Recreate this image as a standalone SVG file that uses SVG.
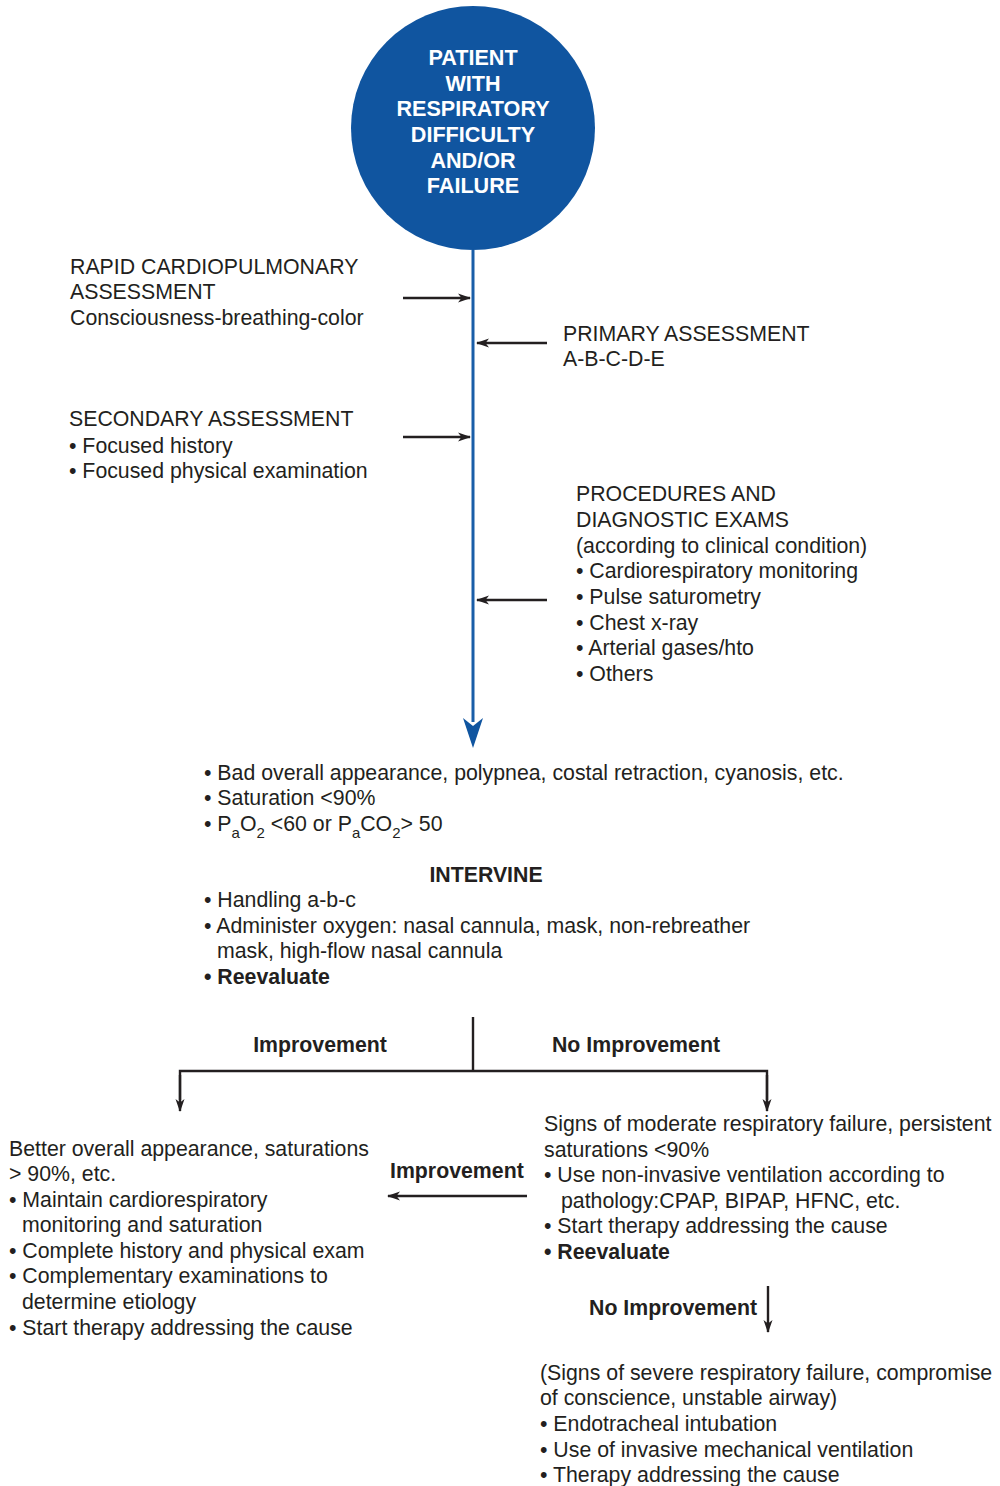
<svg xmlns="http://www.w3.org/2000/svg" width="1000" height="1486" viewBox="0 0 1000 1486">
  <style>
    text { font-family: "Liberation Sans", Arial, sans-serif; font-size: 21.3px; fill: #231f20; }
    .b { font-weight: bold; }
    .w { fill: #ffffff; font-weight: bold; font-size: 21.6px; }
    .c { text-anchor: middle; }
    .ln { stroke: #231f20; stroke-width: 2.4; fill: none; }
    .blue { stroke: #1a5ea8; stroke-width: 3; fill: none; }
  </style>
  <defs>
    <marker id="ah" viewBox="0 0 13 10" refX="12" refY="5" markerWidth="13" markerHeight="10" markerUnits="userSpaceOnUse" orient="auto">
      <path d="M0,0.5 L13,5 L0,9.5 L3.5,5 Z" fill="#231f20"/>
    </marker>
  </defs>
  <rect width="1000" height="1486" fill="#ffffff"/>

  <!-- start node -->
  <g id="start">
    <circle cx="473" cy="128" r="122" fill="#1055a0"/>
    <text class="w c" x="473" y="65">PATIENT</text>
    <text class="w c" x="473" y="91">WITH</text>
    <text class="w c" x="473" y="116">RESPIRATORY</text>
    <text class="w c" x="473" y="142">DIFFICULTY</text>
    <text class="w c" x="473" y="168">AND/OR</text>
    <text class="w c" x="473" y="193">FAILURE</text>
  </g>

  <!-- connectors -->
  <g id="connectors">
    <line class="blue" x1="473" y1="250" x2="473" y2="722"/>
    <path d="M473,748 L463,718 L473,726 L483,718 Z" fill="#1055a0"/>
    <line class="ln" x1="403" y1="298" x2="470" y2="298" marker-end="url(#ah)"/>
    <line class="ln" x1="547" y1="343" x2="477" y2="343" marker-end="url(#ah)"/>
    <line class="ln" x1="403" y1="437" x2="470" y2="437" marker-end="url(#ah)"/>
    <line class="ln" x1="547" y1="600" x2="477" y2="600" marker-end="url(#ah)"/>
    <line class="ln" x1="473" y1="1017" x2="473" y2="1071"/>
    <polyline class="ln" points="180,1100 180,1071 767,1071 767,1100"/>
    <line class="ln" x1="180" y1="1075" x2="180" y2="1111" marker-end="url(#ah)"/>
    <line class="ln" x1="767" y1="1075" x2="767" y2="1111" marker-end="url(#ah)"/>
    <line class="ln" x1="527" y1="1196" x2="388" y2="1196" marker-end="url(#ah)"/>
    <line class="ln" x1="768" y1="1286" x2="768" y2="1332" marker-end="url(#ah)"/>
  </g>

  <g id="rapid">
    <text x="70" y="274">RAPID CARDIOPULMONARY</text>
    <text x="70" y="299">ASSESSMENT</text>
    <text x="70" y="325">Consciousness-breathing-color</text>
  </g>

  <g id="primary">
    <text x="563" y="341">PRIMARY ASSESSMENT</text>
    <text x="563" y="366">A-B-C-D-E</text>
  </g>

  <g id="secondary">
    <text x="69" y="426">SECONDARY ASSESSMENT</text>
    <text x="69" y="453">• Focused history</text>
    <text x="69" y="478">• Focused physical examination</text>
  </g>

  <g id="procedures">
    <text x="576" y="501">PROCEDURES AND</text>
    <text x="576" y="527">DIAGNOSTIC EXAMS</text>
    <text x="576" y="553">(according to clinical condition)</text>
    <text x="576" y="578">• Cardiorespiratory monitoring</text>
    <text x="576" y="604">• Pulse saturometry</text>
    <text x="576" y="630">• Chest x-ray</text>
    <text x="576" y="655">• Arterial gases/hto</text>
    <text x="576" y="681">• Others</text>
  </g>

  <g id="intervine">
    <text x="204" y="780">• Bad overall appearance, polypnea, costal retraction, cyanosis, etc.</text>
    <text x="204" y="805">• Saturation &lt;90%</text>
    <text x="204" y="831">• P<tspan font-size="15" dy="7">a</tspan><tspan dy="-7">O</tspan><tspan font-size="15" dy="7">2</tspan><tspan dy="-7"> &lt;60 or P</tspan><tspan font-size="15" dy="7">a</tspan><tspan dy="-7">CO</tspan><tspan font-size="15" dy="7">2</tspan><tspan dy="-7">&gt; 50</tspan></text>
    <text class="b c" x="486" y="882">INTERVINE</text>
    <text x="204" y="907">• Handling a-b-c</text>
    <text x="204" y="933">• Administer oxygen: nasal cannula, mask, non-rebreather</text>
    <text x="217" y="958">mask, high-flow nasal cannula</text>
    <text x="204" y="984" class="b">• Reevaluate</text>
  </g>

  <g id="branch-labels">
    <text class="b c" x="320" y="1052">Improvement</text>
    <text class="b c" x="636" y="1052">No Improvement</text>
    <text class="b" x="390" y="1178">Improvement</text>
    <text class="b" x="589" y="1315">No Improvement</text>
  </g>

  <g id="improvement">
    <text x="9" y="1156">Better overall appearance, saturations</text>
    <text x="9" y="1181">&gt; 90%, etc.</text>
    <text x="9" y="1207">• Maintain cardiorespiratory</text>
    <text x="22" y="1232">monitoring and saturation</text>
    <text x="9" y="1258">• Complete history and physical exam</text>
    <text x="9" y="1283">• Complementary examinations to</text>
    <text x="22" y="1309">determine etiology</text>
    <text x="9" y="1335">• Start therapy addressing the cause</text>
  </g>

  <g id="moderate">
    <text x="544" y="1131">Signs of moderate respiratory failure, persistent</text>
    <text x="544" y="1157">saturations &lt;90%</text>
    <text x="544" y="1182">• Use non-invasive ventilation according to</text>
    <text x="561" y="1208">pathology:CPAP, BIPAP, HFNC, etc.</text>
    <text x="544" y="1233">• Start therapy addressing the cause</text>
    <text x="544" y="1259" class="b">• Reevaluate</text>
  </g>

  <g id="severe">
    <text x="540" y="1380">(Signs of severe respiratory failure, compromise</text>
    <text x="540" y="1405">of conscience, unstable airway)</text>
    <text x="540" y="1431">• Endotracheal intubation</text>
    <text x="540" y="1457">• Use of invasive mechanical ventilation</text>
    <text x="540" y="1482">• Therapy addressing the cause</text>
  </g>
</svg>
